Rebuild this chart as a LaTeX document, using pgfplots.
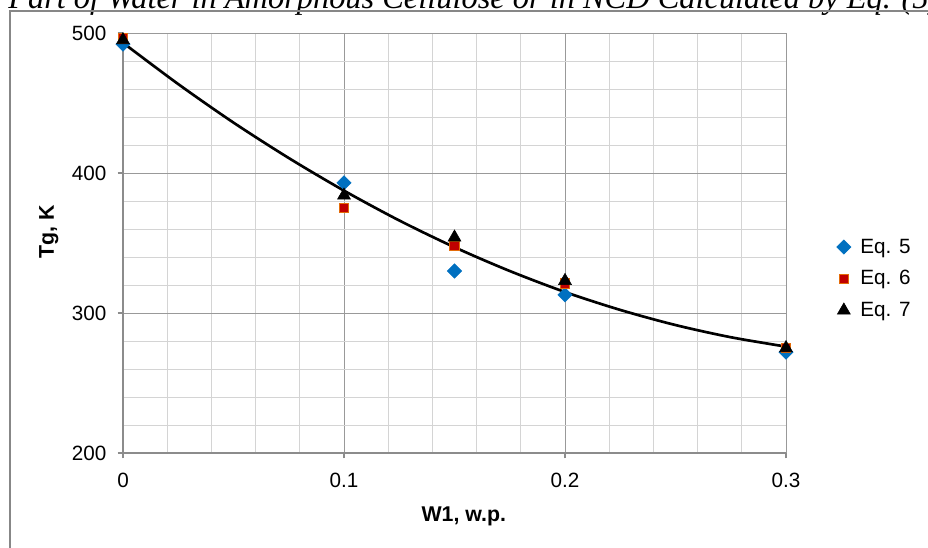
\documentclass[border=0pt]{standalone}
\usepackage{fontspec}
\setmainfont{Liberation Sans}
\newfontfamily\titlefont{Liberation Serif}
\usepackage{pgfplots}
\pgfplotsset{compat=1.18}
\definecolor{eqblue}{HTML}{0070C0}
\definecolor{eqred}{HTML}{C00000}
\definecolor{eqorange}{HTML}{E46C0A}
\begin{document}
\begin{tikzpicture}
\path[use as bounding box, clip] (-92.25pt,-70.5pt) rectangle (603.75pt,339.75pt);
\node[anchor=base west, inner sep=0pt, font=\titlefont\itshape\fontsize{24.3}{28}\selectfont] at (-86.25pt,333.5pt) {Part of Water in Amorphous Cellulose or in NCD Calculated by Eq. (5)};
\draw[color=black!47, line width=1.5pt] (-84.75pt,-90pt) rectangle (620pt,331.5pt);
\begin{axis}[
  at={(0pt,0pt)}, anchor=south west,
  scale only axis, width=497.25pt, height=315pt,
  xmin=0, xmax=0.3, ymin=200, ymax=500,
  xtick={0,0.1,0.2,0.3}, xticklabels={0,0.1,0.2,0.3},
  ytick={200,300,400,500},
  minor x tick num=4, minor y tick num=4,
  grid=both,
  major grid style={color=black!40, line width=0.6pt},
  minor grid style={color=black!17, line width=0.6pt},
  axis x line*=bottom, axis y line*=left,
  axis line style={-, color=black!45, line width=0.8pt},
  tick align=outside, major tick length=4pt, minor tick length=0pt,
  tick style={color=black!45, line width=0.8pt},
  /pgf/number format/assume math mode=true,
  ticklabel style={font=\fontsize{15.5}{18}\selectfont},
  xticklabel style={yshift=-7.5pt},
  yticklabel style={xshift=-5pt},
  xlabel={\textbf{W1, w.p.}}, ylabel={\textbf{Tg, K}},
  label style={font=\fontsize{16}{18}\selectfont},
  xlabel style={at={(axis description cs:0.514,-0.152)}, anchor=center},
  ylabel style={at={(axis description cs:-0.112,0.526)}, anchor=center},
  legend style={at={(axis description cs:1.07,0.415)}, anchor=west, draw=none, fill=none,
    font=\fontsize{15.5}{18}\selectfont, row sep=7.5pt, nodes={inner xsep=7pt}},
  legend cell align=left,
]
\addplot[black, line width=2pt, smooth, forget plot] coordinates {
(0,493) (0.025,463.5) (0.05,436) (0.075,410.7) (0.1,387.4) (0.125,366.1) (0.15,347)
(0.175,330) (0.2,315) (0.225,302.2) (0.25,291.4) (0.275,282.7) (0.3,276)};
\addplot[only marks, mark=square*, mark size=3.8pt, mark options={rotate=45, fill=eqblue, draw=eqblue}] coordinates {
(0,492) (0.1,393) (0.15,330) (0.2,313) (0.3,272)};
\addlegendentry{Eq. 5}
\addplot[only marks, mark=square*, mark size=3.6pt, mark options={fill=eqred, draw=eqorange, line width=0.6pt}] coordinates {
(0,496) (0.1,375) (0.15,348) (0.2,321) (0.3,275)};
\addlegendentry{Eq. 6}
\addplot[only marks, mark=triangle*, mark size=5.6pt, mark options={fill=black, draw=black}] coordinates {
(0,495) (0.1,384) (0.15,354) (0.2,323) (0.3,275)};
\addlegendentry{Eq. 7}
\end{axis}
\end{tikzpicture}
\end{document}
